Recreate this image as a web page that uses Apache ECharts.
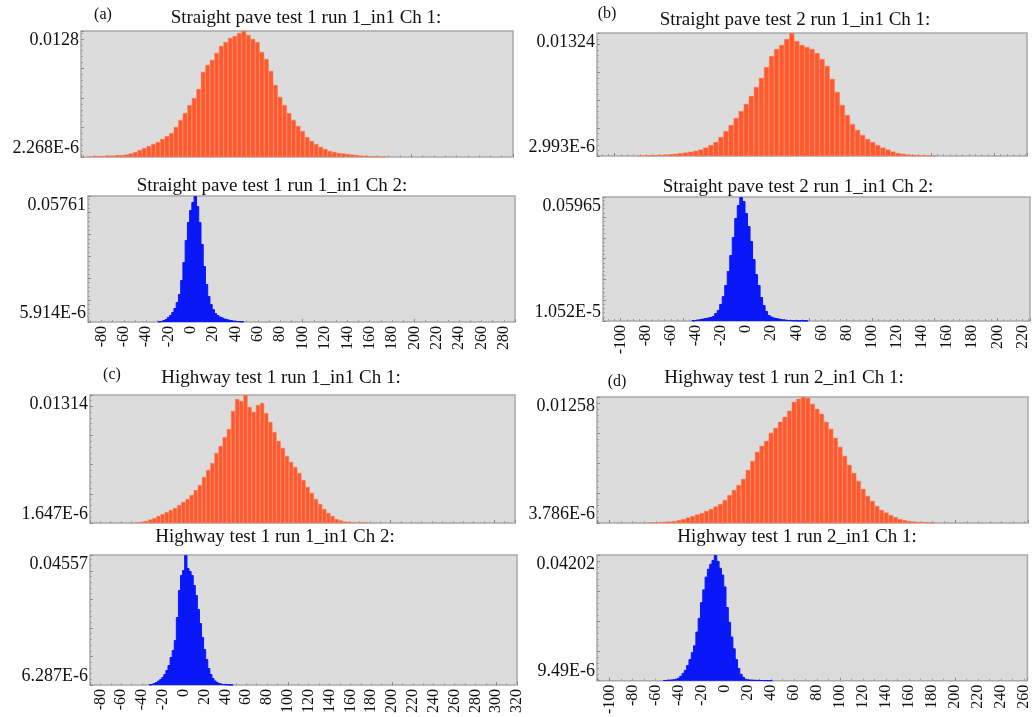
<!DOCTYPE html>
<html lang="en">
<head>
<meta charset="UTF-8" />
<title>Histograms</title>
<script src="https://cdn.jsdelivr.net/npm/echarts@6/dist/echarts.min.js"></script>
<style>body { margin: 0; background: #fff; }</style>
</head>
<body>
<div id="main" style="width: 1032px; height: 717px"></div>
<script type="text/javascript">
// densities are stored x 1e-4, bins given by first centre + width
const aCh1Start = -84, aCh1Bin = 4;
const aCh1 = [0.5,1,1,1,1.5,1.5,2,2,2.5,3.6, 5.1,7.1,9.1,11.2,13.2,15.2,18.3,21.3,24.4,30.5,
  37.6,44.7,52.8,59.9,69.1,86.4,93.5,98.6,105.7,112.8, 116.8,120.9,122.9,126,128,124,119.9,116.8,106.7,99.6,
  87.4,73.2,61,52.8,44.7,37.6,31.5,26.4,20.3,16.3, 13.2,10.2,8.1,6.1,5.1,4.1,3.6,3,2.5,2,
  1.5,1.2,1,0.8,0.6,0.4];
const aCh2Start = -28, aCh2Bin = 2;
const aCh2 = [2.3,4.6,9.1,13.7,22.9,32,45.7,64,91.4,128, 192,274,375,457,512,549,576.1,530,457,357,
  256,174,119,82,59,41,32,25,21,16, 14,11,9,7,5.5,4.6,3.2,2.3];
const bCh1Start = -80, bCh1Bin = 4;
const bCh1 = [0.3,0.5,0.8,1,1.2,1.5,1.9,2.4,3,3.8, 4.6,5.6,7,9.1,11.8,15.1,20.5,26.9,33.4,40.9,
  48.4,56,64.6,74.3,84,95.8,107.6,115.2,119.5,125.9, 132.4,123.8,119.5,117.3,115.2,110.9,104.4,96.9,82.9,68.9,
  54.9,44.1,34.4,28,22.6,18.3,15.1,11.8,9.1,7, 4.8,3.2,2.4,1.7,1.3,1,0.8,0.5,0.3];
const bCh2Start = -42, bCh2Bin = 2;
const bCh2 = [2.4,4.8,7.2,9.6,12,14.4,16.8,19.2,24,38.5, 52.9,81.8,120,173,240.5,317.5,404,495.4,558,596.5,
  577.2,519.5,457,384.8,298.2,226,173.2,115.4,77,48.1, 28.9,21.6,16.8,14.4,12,9.6,7.7,6.3,4.8,3.8,
  2.9,2.4,1.9,2.9,2.4,1.4];
const cCh1Start = -44, cCh1Bin = 4;
const cCh1 = [0.5,1,2.1,3.6,5.1,7.2,9.2,11.3,13.3,15.4, 18.5,21.6,24.6,28.7,33.9,39,47.2,54.4,61.6,71.9,
  79,88.3,96.5,115,127.3,125.2,131.4,119.1,114,121.1, 123.2,112.9,103.7,93.4,84.2,77,68.8,62.6,57.5,51.3,
  44.1,37,30.8,24.6,19.5,14.4,10.3,7.2,4.1,2.6, 1.5,1,0.8,0.6,0.5,0.4];
const cCh2Start = -32, cCh2Bin = 2;
const cCh2 = [1.8,3.5,7,10.5,15.8,21,28,38.6,52.6,70.1, 98.1,122.7,157.7,238.3,333,385.6,403.1,455.7,410.1,399.6,
  385.6,350.5,315.5,266.4,217.3,168.2,126.2,91.1,59.6,38.6, 24.5,15.8,10.5,7,5.3,3.5,2.8,2.1,1.8,1.1];
const dCh1Start = -64, dCh1Bin = 4;
const dCh1 = [0.4,0.6,0.8,1.1,1.5,2,3,4,5.5,7, 8.5,10,12,14,16.5,19,23,28,33,38,
  44,53,62,71,77,82,90,95,101,106, 112,121,124,125.8,125,119,114,109,101,94,
  85,76,67,58,50,42,34,27,22,17, 13,10.5,8,6,4,3,2,1.5,1,0.8, 0.6,0.4];
const dCh2Start = -52, dCh2Bin = 2;
const dCh2 = [1,1.6,2.6,3.3,4.9,6.6,9.8,16.4,26.3,36.1, 52.5,72.2,95.2,118.2,164.2,210.1,262.6,305.3,348,374.3,
  390.7,403.8,420.2,400.5,377.5,354.6,315.2,246.2,197,147.7, 108.3,72.2,42.7,23,13.1,6.6,3.9,3.3,2.6,2,
  1.6,1.6,1.3,1,1,0.7,0.7];

const titles = [
  "Straight pave test 1 run 1_in1 Ch 1:", "Straight pave test 1 run 1_in1 Ch 2:",
  "Straight pave test 2 run 1_in1 Ch 1:", "Straight pave test 2 run 1_in1 Ch 2:",
  "Highway test 1 run 1_in1 Ch 1:", "Highway test 1 run 1_in1 Ch 2:",
  "Highway test 1 run 2_in1 Ch 1:", "Highway test 1 run 2_in1 Ch 1:"
];
const letters = ["(a)", "(b)", "(c)", "(d)"];
const yMaxLabels = ["0.0128", "0.05761", "0.01324", "0.05965", "0.01314", "0.04557", "0.01258", "0.04202"];
const yMinLabels = ["2.268E-6", "5.914E-6", "2.993E-6", "1.052E-5", "1.647E-6", "6.287E-6", "3.786E-6", "9.49E-6"];
const xTicksA = [-80,-60,-40,-20,0,20,40,60,80,100,120,140,160,180,200,220,240,260,280];
const xTicksB = [-100,-80,-60,-40,-20,0,20,40,60,80,100,120,140,160,180,200,220];
const xTicksC = [-80,-60,-40,-20,0,20,40,60,80,100,120,140,160,180,200,220,240,260,280,300,320];
const xTicksD = [-100,-80,-60,-40,-20,0,20,40,60,80,100,120,140,160,180,200,220,240,260];

const ORANGE = "#ff5a2e", BLUE = "#0a18f8";
const FONT = "Liberation Serif";

// layout: grid box, x range, title centre
const panels = [
  { data: aCh1, start: aCh1Start, bin: aCh1Bin, box: [81, 31, 432, 126], range: [-92, 290], ticks: null, color: ORANGE, t: [306, 18], letter: [103, 15] },
  { data: aCh2, start: aCh2Start, bin: aCh2Bin, box: [88, 196, 427, 126], range: [-92, 290], ticks: xTicksA, color: BLUE, t: [272, 186] },
  { data: bCh1, start: bCh1Start, bin: bCh1Bin, box: [597, 33, 430, 123], range: [-114, 226], ticks: null, color: ORANGE, t: [795, 20], letter: [607, 14] },
  { data: bCh2, start: bCh2Start, bin: bCh2Bin, box: [603, 197, 427, 124], range: [-114, 226], ticks: xTicksB, color: BLUE, t: [798, 187] },
  { data: cCh1, start: cCh1Start, bin: cCh1Bin, box: [90, 395, 425, 128], range: [-90, 320], ticks: null, color: ORANGE, t: [281, 378], letter: [112, 375] },
  { data: cCh2, start: cCh2Start, bin: cCh2Bin, box: [90, 555, 427, 130], range: [-90, 320], ticks: xTicksC, color: BLUE, t: [275, 537] },
  { data: dCh1, start: dCh1Start, bin: dCh1Bin, box: [597, 397, 431, 126], range: [-111, 263], ticks: null, color: ORANGE, t: [784, 378], letter: [617, 382] },
  { data: dCh2, start: dCh2Start, bin: dCh2Bin, box: [597, 555, 431, 128], range: [-111, 263], ticks: xTicksD, color: BLUE, t: [797, 537] }
];

const grid = [], xAxis = [], yAxis = [], series = [], graphic = [];
panels.forEach((p, i) => {
  const [l, t, w, h] = p.box;
  const yMin = parseFloat(yMinLabels[i]), yMax = parseFloat(yMaxLabels[i]);
  const binPx = w / (p.range[1] - p.range[0]) * p.bin;
  const isOrange = p.color === ORANGE;
  grid.push({ left: l, top: t, width: w, height: h, show: true, backgroundColor: "#dcdcdc", borderColor: "#a9a9a9", borderWidth: 1.5 });
  xAxis.push({
    type: "value", gridIndex: i, min: p.range[0], max: p.range[1],
    splitLine: { show: false }, axisLine: { show: false, onZero: false },
    axisTick: { show: true, inside: true, length: 3, lineStyle: { color: "#8a8a8a" } },
    minorTick: { show: true, splitNumber: 10, length: 2, lineStyle: { color: "#a0a0a0" } },
    axisLabel: p.ticks ? {
      show: true, customValues: p.ticks, rotate: 90, margin: 4,
      fontFamily: FONT, fontSize: 16, color: "#111"
    } : { show: false }
  });
  yAxis.push({
    type: "value", gridIndex: i, min: yMin, max: yMax,
    splitLine: { show: false }, axisLine: { show: false, onZero: false },
    axisTick: { show: true, inside: true, length: 3, lineStyle: { color: "#8a8a8a" } },
    minorTick: { show: true, splitNumber: 5, length: 2, lineStyle: { color: "#a0a0a0" } },
    axisLabel: {
      customValues: [yMin, yMax], margin: 2, fontFamily: FONT, fontSize: 18, color: "#111",
      verticalAlignMaxLabel: "top", verticalAlignMinLabel: "bottom",
      formatter: (v) => (Math.abs(v - yMax) < Math.abs(v - yMin) ? yMaxLabels[i] : yMinLabels[i])
    }
  });
  series.push({
    type: "bar", xAxisIndex: i, yAxisIndex: i,
    data: p.data.map((v, k) => [p.start + k * p.bin, v * 1e-4]),
    barWidth: isOrange ? binPx : binPx + 1.2,
    itemStyle: isOrange
      ? { color: ORANGE, borderColor: "#ff7a55", borderWidth: 0.5 }
      : { color: BLUE, borderColor: BLUE, borderWidth: 1 },
    emphasis: { disabled: true }
  });
  graphic.push({
    type: "text", x: p.t[0], y: p.t[1],
    style: { text: titles[i], fill: "#111", font: "19px '" + FONT + "'", textAlign: "center", textVerticalAlign: "middle" }
  });
  if (p.letter) {
    graphic.push({
      type: "text", x: p.letter[0], y: p.letter[1],
      style: { text: letters[i / 2], fill: "#111", font: "16px '" + FONT + "'", textAlign: "center", textVerticalAlign: "middle" }
    });
  }
});

const myChart = echarts.init(document.getElementById("main"));
myChart.setOption({ animation: false, grid, xAxis, yAxis, series, graphic });
</script>
</body>
</html>
